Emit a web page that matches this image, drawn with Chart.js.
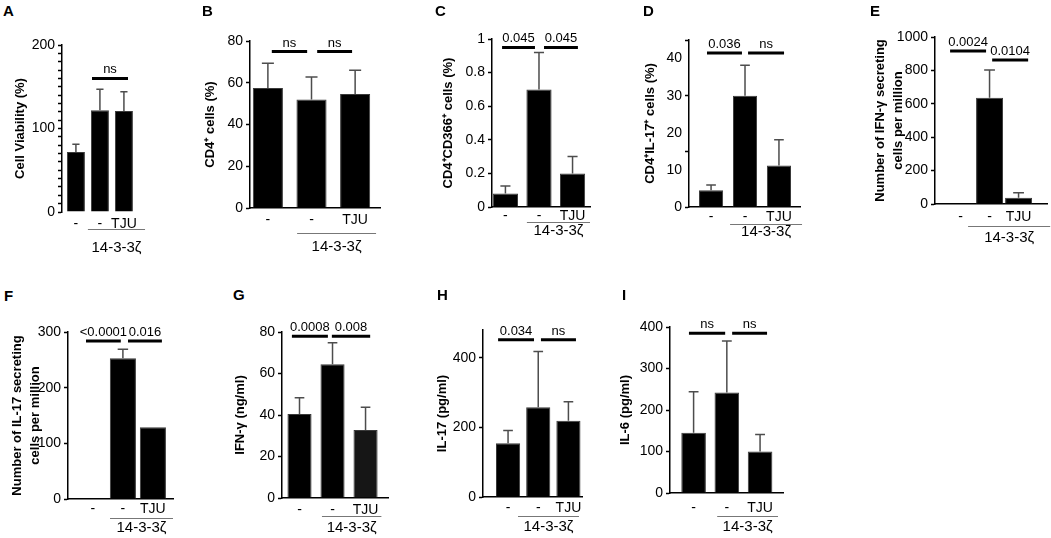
<!DOCTYPE html>
<html>
<head>
<meta charset="utf-8">
<script src="https://cdn.jsdelivr.net/npm/chart.js@4.4.0/dist/chart.umd.min.js"></script>
<style>
  html, body { margin: 0; padding: 0; background: #fff; overflow: hidden; }
  body { width: 1051px; height: 538px; position: relative; font-family: "Liberation Sans", Arial, sans-serif; }
  .panel { position: absolute; }
  .letter { position: absolute; font-weight: bold; font-size: 15px; line-height: 1; color: #000; }
</style>
</head>
<body>
<script>
// x categories, shared by every panel
const groups = ["-", "-", "TJU"];
const groupName = "14-3-3ζ";

// A - cell viability
const viabilityMean = [72, 122, 121];
const viabilityErr = [9, 25, 23];
const viabilityTicks = Array.from({ length: 21 }, (_, i) => i * 10);
const viabilityLabels = [0, 100, 200];
const viabilitySig = [[0.67, 2.17, 160, "ns"]];

// B - CD4+ cells
const cd4Mean = [57.5, 52, 54.6];
const cd4Err = [11.9, 10.8, 11.4];
const cd4Ticks = [0, 20, 40, 60, 80];
const cd4Sig = [[0.09, 0.9, 75, "ns"], [1.13, 1.93, 75, "ns"]];

// C - CD4+CD366+ cells
const cd366Mean = [0.08, 0.70, 0.20];
const cd366Err = [0.045, 0.22, 0.10];
const cd366Ticks = [0, 0.2, 0.4, 0.6, 0.8, 1];
const cd366Sig = [[-0.1, 0.88, 0.95, "0.045"], [1.15, 2.16, 0.95, "0.045"]];

// D - CD4+IL-17+ cells
const il17PctMean = [4.5, 30, 11.2];
const il17PctErr = [1.4, 8.2, 6.9];
const il17PctTicks = [0, 10, 15, 20, 30, 40, 45];
const il17PctLabels = [0, 10, 20, 30, 40];
const il17PctMarks = [0, 15, 30, 45];
const il17PctSig = [[-0.12, 0.91, 41.5, "0.036"], [1.09, 2.15, 41.5, "ns"]];

// E - IFN-g secreting cells
const ifnCellsMean = [0, 636, 38];
const ifnCellsErr = [0, 166, 30];
const ifnCellsTicks = [0, 200, 400, 600, 800, 1000];
const ifnCellsSig = [[-0.36, 0.88, 916, "0.0024"], [1.09, 2.33, 862, "0.0104"]];

// F - IL-17 secreting cells
const il17CellsMean = [0, 253, 129];
const il17CellsErr = [0, 16, 0];
const il17CellsTicks = [0, 100, 200, 300];
const il17CellsSig = [[-0.23, 0.93, 284, "<0.0001"], [1.17, 2.3, 284, "0.016"]];

// G - IFN-g (ng/ml)
const ifnMean = [40.5, 64.4, 32.8];
const ifnErr = [7.8, 10.4, 10.9];
const ifnTicks = [0, 20, 40, 60, 80];
const ifnSig = [[-0.23, 0.86, 78, "0.0008"], [0.98, 2.14, 78, "0.008"]];

// H - IL-17 (pg/ml)
const il17Mean = [154.5, 258, 219];
const il17Err = [36.5, 160, 55];
const il17Ticks = [0, 200, 400];
const il17Sig = [[-0.33, 0.86, 452, "0.034"], [1.09, 2.25, 452, "ns"]];

// I - IL-6 (pg/ml)
const il6Mean = [145, 242, 100];
const il6Err = [99, 124, 41];
const il6Ticks = [0, 100, 200, 300, 400];
const il6Sig = [[-0.14, 0.95, 385, "ns"], [1.16, 2.21, 385, "ns"]];

const PAD_TOP = 24;
const PAD_RIGHT = 12;
const X_H = 50;
const TITLE_SIZE = 13;
const TITLE_LH = 1.4;
const FONT = "'Liberation Sans', Arial, sans-serif";

const panels = [
  { letter: "A", at: [3, 3], title: "Cell Viability (%)", mean: viabilityMean, err: viabilityErr,
    yMax: 200, ticks: viabilityTicks, labels: viabilityLabels, marks: viabilityTicks, sig: viabilitySig,
    L: 62, R: 140, T: 45, B: 212, titleX: 20, xRange: [-0.58, 2.67], barPct: 0.75,
    xPad: 3.6, group: [0.5, 2.88], groupOff: 17, groupText: 19, xBorder: false },
  { letter: "B", at: [202, 3], title: "CD4⁺ cells (%)", mean: cd4Mean, err: cd4Err,
    yMax: 80, ticks: cd4Ticks, sig: cd4Sig,
    L: 250, R: 380, T: 41, B: 208, titleX: 210, xRange: [-0.41, 2.57], barPct: 0.69,
    xPad: 4, group: [0.67, 2.48], groupOff: 25, groupText: 14 },
  { letter: "C", at: [435, 2.5], title: "CD4⁺CD366⁺ cells (%)", mean: cd366Mean, err: cd366Err,
    yMax: 1, ticks: cd366Ticks, sig: cd366Sig,
    L: 492, R: 590, T: 39, B: 207, titleX: 448, xRange: [-0.4, 2.52], barPct: 0.75,
    xPad: 0.6, group: [0.64, 2.52], groupOff: 15, groupText: 8.5 },
  { letter: "D", at: [643, 3], title: "CD4⁺IL-17⁺ cells (%)", mean: il17PctMean, err: il17PctErr,
    yMax: 45, ticks: il17PctTicks, labels: il17PctLabels, marks: il17PctMarks, sig: il17PctSig,
    L: 689, R: 800, T: 40, B: 207, titleX: 650, xRange: [-0.65, 2.62], barPct: 0.71,
    xPad: 1.6, group: [0.56, 2.68], groupOff: 17, groupText: 8 },
  { letter: "E", at: [870, 2.5], title: ["Number of IFN-γ secreting", "cells per million"], mean: ifnCellsMean, err: ifnCellsErr,
    yMax: 1000, ticks: ifnCellsTicks, sig: ifnCellsSig,
    L: 935, R: 1047, T: 37, B: 204, titleX: 880, xRange: [-0.88, 2.98], barPct: 0.93,
    xPad: 4.6, group: [0.26, 3.09], groupOff: 22, groupText: 12 },
  { letter: "F", at: [4, 287.5], title: ["Number of IL-17 secreting", "cells per million"], mean: il17CellsMean, err: il17CellsErr,
    yMax: 300, ticks: il17CellsTicks, sig: il17CellsSig,
    L: 68, R: 173, T: 332, B: 499, titleX: 17, xRange: [-0.83, 2.67], barPct: 0.87,
    xPad: 1.6, group: [0.57, 2.67], groupOff: 19, groupText: 10 },
  { letter: "G", at: [233, 287], title: "IFN-γ (ng/ml)", mean: ifnMean, err: ifnErr,
    yMax: 80, ticks: ifnTicks, sig: ifnSig, colors: ["#000", "#000", "#161616"],
    L: 282, R: 388, T: 332, B: 498, titleX: 240, xRange: [-0.53, 2.68], barPct: 0.73,
    xPad: 3.6, group: [0.68, 2.48], groupOff: 18, groupText: 11.5 },
  { letter: "H", at: [437, 286.5], title: "IL-17 (pg/ml)", mean: il17Mean, err: il17Err,
    yMax: 480, ticks: il17Ticks, sig: il17Sig,
    L: 483, R: 582, T: 330, B: 497, titleX: 442, xRange: [-0.83, 2.45], barPct: 0.8,
    xPad: 2.6, group: [0.33, 2.35], groupOff: 19, groupText: 11 },
  { letter: "I", at: [622, 286.5], title: "IL-6 (pg/ml)", mean: il6Mean, err: il6Err,
    yMax: 400, ticks: il6Ticks, sig: il6Sig,
    L: 670, R: 783, T: 327, B: 493, titleX: 625, xRange: [-0.71, 2.69], barPct: 0.74,
    xPad: 6.6, group: [0.71, 2.54], groupOff: 23, groupText: 11 }
];

// error bars, significance brackets and the 14-3-3ζ group line
function makeDecor(p) {
  return {
    id: "decor" + p.letter,
    afterDatasetsDraw(chart) {
      const { ctx } = chart;
      const y = chart.scales.y;
      const meta = chart.getDatasetMeta(0);
      ctx.save();
      ctx.strokeStyle = "#4d4d4d";
      ctx.lineWidth = 1.5;
      meta.data.forEach((bar, i) => {
        if (!p.err[i]) return;
        const top = y.getPixelForValue(p.mean[i] + p.err[i]);
        const cap = bar.width * 0.2;
        ctx.beginPath();
        ctx.moveTo(bar.x, bar.y);
        ctx.lineTo(bar.x, top);
        ctx.moveTo(bar.x - cap, top);
        ctx.lineTo(bar.x + cap, top);
        ctx.stroke();
      });
      ctx.restore();
    },
    afterDraw(chart) {
      const { ctx, chartArea } = chart;
      const x = chart.scales.x;
      const y = chart.scales.y;
      ctx.save();
      ctx.fillStyle = "#000";
      ctx.strokeStyle = "#000";
      ctx.lineWidth = 3;
      ctx.font = "13px " + FONT;
      ctx.textAlign = "center";
      ctx.textBaseline = "bottom";
      p.sig.forEach(([from, to, level, text]) => {
        const x0 = x.getPixelForValue(from);
        const x1 = x.getPixelForValue(to);
        const yy = y.getPixelForValue(level);
        ctx.beginPath();
        ctx.moveTo(x0, yy);
        ctx.lineTo(x1, yy);
        ctx.stroke();
        ctx.fillText(text, (x0 + x1) / 2, yy - 2);
      });

      const gy = chartArea.bottom + p.groupOff;
      const g0 = x.getPixelForValue(p.group[0]);
      const g1 = x.getPixelForValue(p.group[1]);
      ctx.strokeStyle = "#777";
      ctx.lineWidth = 1;
      ctx.beginPath();
      ctx.moveTo(g0, gy + 0.5);
      ctx.lineTo(g1, gy + 0.5);
      ctx.stroke();
      ctx.font = "15px " + FONT;
      ctx.textBaseline = "middle";
      ctx.fillText(groupName, (g0 + g1) / 2, gy + p.groupText);
      ctx.restore();
    }
  };
}

function makePanel(p) {
  const left = Math.round(p.titleX - (TITLE_SIZE * TITLE_LH) / 2);
  const top = p.T - PAD_TOP;
  const width = p.R + PAD_RIGHT - left;
  const height = p.B + X_H - top;
  const labels = p.labels || p.ticks;
  const marks = p.marks || p.ticks;

  const canvas = document.createElement("canvas");
  canvas.className = "panel";
  canvas.width = width;
  canvas.height = height;
  canvas.style.left = left + "px";
  canvas.style.top = top + "px";
  document.body.appendChild(canvas);

  const letter = document.createElement("div");
  letter.className = "letter";
  letter.textContent = p.letter;
  letter.style.left = p.at[0] + "px";
  letter.style.top = p.at[1] + "px";
  document.body.appendChild(letter);

  new Chart(canvas, {
    type: "bar",
    data: {
      datasets: [{
        data: p.mean.map((v, i) => ({ x: i, y: v })),
        backgroundColor: p.colors || "#000",
        borderColor: "#3a3a3a",
        borderWidth: 1,
        barPercentage: p.barPct,
        categoryPercentage: 1
      }]
    },
    options: {
      responsive: false,
      animation: false,
      layout: { padding: { top: PAD_TOP, right: PAD_RIGHT, left: 0, bottom: 0 } },
      plugins: { legend: { display: false }, tooltip: { enabled: false } },
      scales: {
        x: {
          type: "linear",
          min: p.xRange[0],
          max: p.xRange[1],
          offset: false,
          grid: { display: false, drawTicks: false },
          border: { display: p.xBorder !== false, color: "#000", width: 1.5 },
          ticks: {
            color: "#000",
            font: { size: 14, family: FONT },
            padding: p.xPad,
            autoSkip: false,
            maxRotation: 0,
            callback: (v) => groups[v]
          },
          afterBuildTicks: (s) => { s.ticks = groups.map((g, i) => ({ value: i })); },
          afterFit: (s) => { s.height = X_H; }
        },
        y: {
          min: 0,
          max: p.yMax,
          grid: {
            display: true,
            drawOnChartArea: false,
            drawTicks: true,
            tickLength: 4,
            tickWidth: 1.5,
            tickColor: (c) => (c.tick && marks.includes(c.tick.value) ? "#000" : "rgba(0,0,0,0)")
          },
          border: { color: "#000", width: 1.5 },
          ticks: {
            color: "#000",
            font: { size: 14, family: FONT },
            padding: 3,
            autoSkip: false,
            callback: (v) => (labels.includes(v) ? String(v) : "")
          },
          title: {
            display: true,
            text: p.title,
            color: "#000",
            padding: 0,
            font: { size: TITLE_SIZE, weight: "bold", lineHeight: TITLE_LH, family: FONT }
          },
          afterBuildTicks: (s) => { s.ticks = p.ticks.map((v) => ({ value: v })); },
          afterFit: (s) => { s.width = p.L - left; }
        }
      }
    },
    plugins: [makeDecor(p)]
  });
}

panels.forEach(makePanel);
</script>
</body>
</html>
